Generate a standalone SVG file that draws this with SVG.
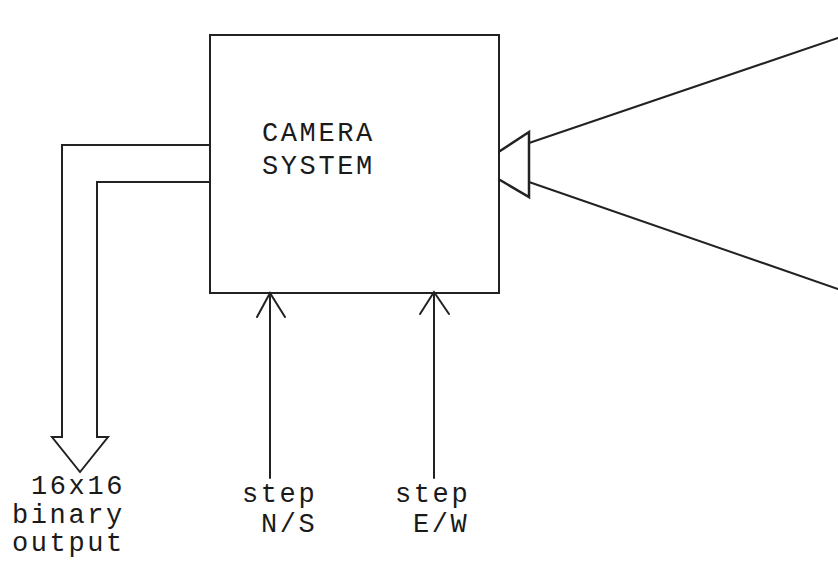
<svg xmlns="http://www.w3.org/2000/svg" width="838" height="564" viewBox="0 0 838 564">
<style>
.ln{fill:none;stroke:#222;stroke-width:2;stroke-linejoin:miter;stroke-linecap:round}
.tx{font-family:"Liberation Mono","Courier New",monospace;font-size:27px;letter-spacing:2.6px;fill:#1a1a1a}
</style>
<rect width="838" height="564" fill="#fff"/>
<g id="camera-system">
<rect class="ln" x="210" y="35" width="289" height="258"/>
<text class="tx" x="262" y="141">CAMERA</text>
<text class="tx" x="262" y="174">SYSTEM</text>
</g>
<g id="lens">
<path class="ln" d="M500,151 L529,132 L529,197 L500,180" style="stroke-width:2.5"/>
</g>
<g id="output-label">
<text class="tx" x="31" y="494">16x16</text>
<text class="tx" x="12" y="523">binary</text>
<text class="tx" x="12" y="551">output</text>
</g>
<g id="step-ns-label">
<text class="tx" x="242" y="502">step</text>
<text class="tx" x="261" y="532">N/S</text>
</g>
<g id="step-ew-label">
<text class="tx" x="395" y="502">step</text>
<text class="tx" x="413" y="532">E/W</text>
</g>
<g id="connectors">
<path class="ln" d="M210,145 L62,145 L62,437 L52,437 L80,472 L108,437 L97,437 L97,182 L210,182"/>
<path class="ln" d="M270,478 L270,293 M257,317 L270,293 L285,317"/>
<path class="ln" d="M434,478 L434,292 M420,314 L434,292 L449,314"/>
<path class="ln" d="M529,143 L838,38"/>
<path class="ln" d="M529,182 L838,289"/>
</g>
</svg>
